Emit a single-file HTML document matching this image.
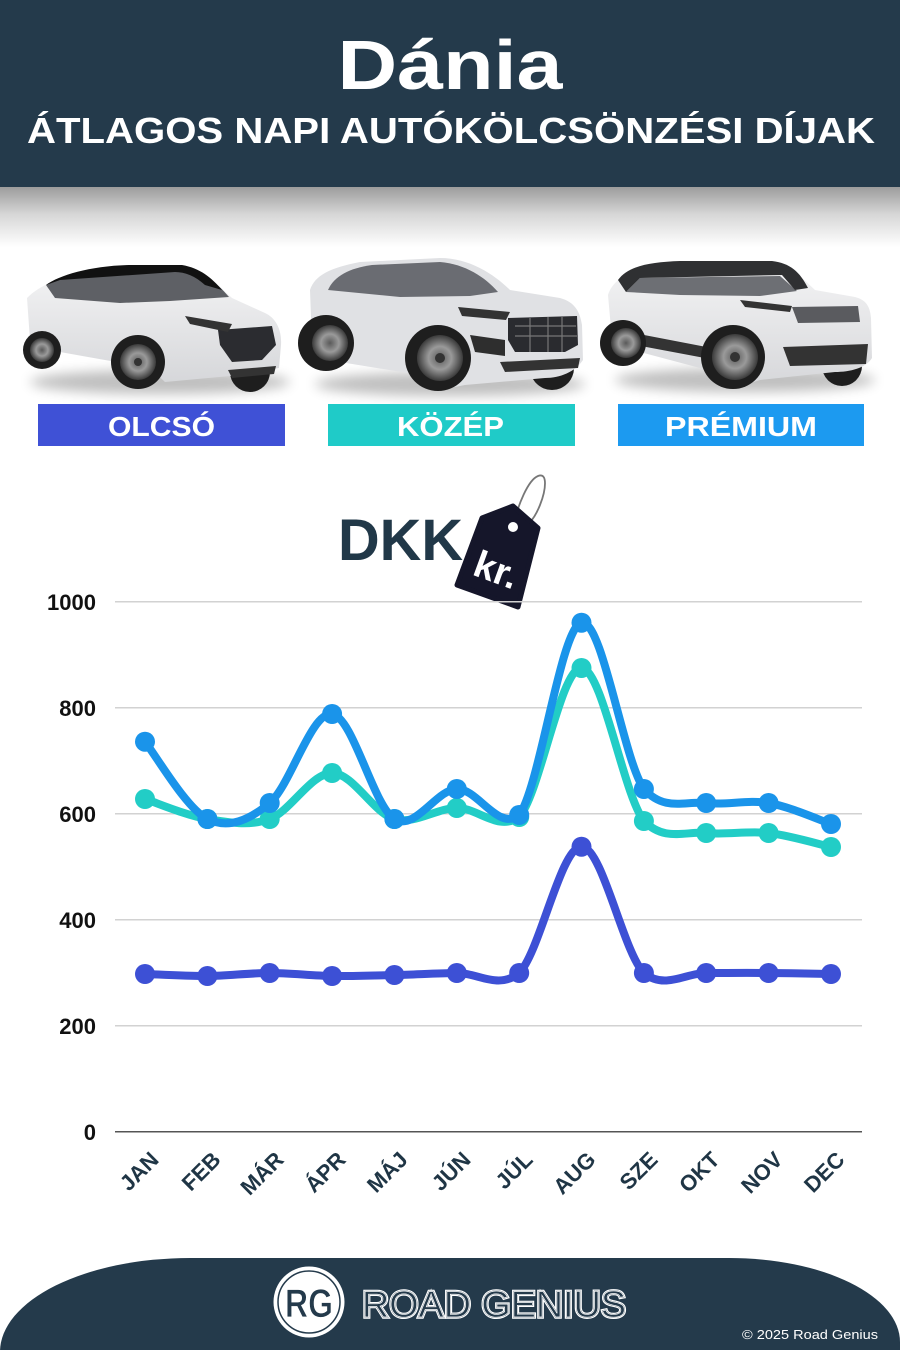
<!DOCTYPE html>
<html><head><meta charset="utf-8"><style>
html,body{margin:0;padding:0;background:#fff;}
svg{display:block;}
text{font-family:"Liberation Sans",Arial,sans-serif;}
</style></head><body>
<svg width="900" height="1350" viewBox="0 0 900 1350" xmlns="http://www.w3.org/2000/svg">
<defs>
<linearGradient id="hs" x1="0" y1="0" x2="0" y2="1">
<stop offset="0" stop-color="#9c9c9c"/><stop offset="0.45" stop-color="#d6d6d6"/><stop offset="1" stop-color="#ffffff"/>
</linearGradient>
<radialGradient id="rim" cx="0.5" cy="0.5" r="0.5">
<stop offset="0" stop-color="#5a5a5a"/><stop offset="0.5" stop-color="#9a9a9a"/><stop offset="1" stop-color="#3a3a3a"/>
</radialGradient>
<linearGradient id="b1" x1="0" y1="0" x2="0" y2="1">
<stop offset="0" stop-color="#f4f4f5"/><stop offset="1" stop-color="#d6d7da"/>
</linearGradient>
<filter id="blur" x="-20%" y="-200%" width="140%" height="500%"><feGaussianBlur stdDeviation="6"/></filter>
</defs>

<!-- header -->
<rect x="0" y="0" width="900" height="187" fill="#243a4b"/>
<rect x="0" y="187" width="900" height="60" fill="url(#hs)"/>
<text x="450" y="89" font-size="70" font-weight="bold" fill="#fff" text-anchor="middle" textLength="225" lengthAdjust="spacingAndGlyphs">Dánia</text>
<text x="27" y="143" font-size="36" font-weight="bold" fill="#fff" textLength="848" lengthAdjust="spacingAndGlyphs">ÁTLAGOS NAPI AUTÓKÖLCSÖNZÉSI DÍJAK</text>

<!-- car shadows -->
<ellipse cx="160" cy="382" rx="130" ry="12" fill="#000" opacity="0.25" filter="url(#blur)"/>
<ellipse cx="450" cy="384" rx="135" ry="12" fill="#000" opacity="0.25" filter="url(#blur)"/>
<ellipse cx="745" cy="380" rx="130" ry="12" fill="#000" opacity="0.25" filter="url(#blur)"/>

<!-- car 1 -->
<g>
<circle cx="250" cy="372" r="20" fill="#1e1e1e"/>
<path d="M27,298 C40,285 60,276 100,270 L180,267 C200,270 215,282 232,298 L265,313 C276,318 282,330 281,345 L279,368 L230,376 L165,382 L150,368 L60,352 L30,340 Z" fill="url(#b1)"/>
<path d="M46,285 C60,275 90,268 130,267 L182,267 C202,270 216,282 229,297 L170,301 L120,303 L55,298 Z" fill="#5e6065"/>
<path d="M46,285 C60,275 90,266 130,265 L182,265 C200,268 212,278 222,290 L205,285 C195,276 185,272 175,272 L60,280 Z" fill="#111"/>
<path d="M218,330 L272,326 L276,345 L262,360 L232,362 L220,345 Z" fill="#2b2c30"/>
<path d="M185,316 L232,324 L228,332 L190,324 Z" fill="#333"/>
<path d="M228,370 L276,366 L274,374 L232,378 Z" fill="#333"/>
<circle cx="42" cy="350" r="19" fill="#1e1e1e"/><circle cx="42" cy="350" r="12" fill="url(#rim)"/>
<circle cx="138" cy="362" r="27" fill="#1e1e1e"/><circle cx="138" cy="362" r="18" fill="url(#rim)"/><circle cx="138" cy="362" r="4" fill="#333"/>
</g>

<!-- car 2 -->
<g>
<circle cx="552" cy="368" r="22" fill="#1e1e1e"/>
<path d="M310,290 C315,275 330,268 360,262 L440,258 C470,258 495,275 510,290 L560,298 C575,302 580,312 582,325 L583,360 C575,372 560,378 545,378 L465,385 L440,390 L420,375 L340,362 L312,345 Z" fill="#e0e1e4"/>
<path d="M328,290 C334,276 350,268 372,265 L440,262 C465,264 485,277 498,292 L470,296 L400,297 Z" fill="#6a6c72"/>
<path d="M508,318 L577,316 L578,345 L565,352 L515,352 L508,340 Z" fill="#2a2b2f"/>
<path d="M515,326 H576 M515,336 H577 M530,318 V352 M548,317 V352 M562,317 V352" stroke="#777" stroke-width="1.2"/>
<path d="M458,307 L510,312 L506,320 L462,316 Z" fill="#333"/>
<path d="M470,335 L505,340 L505,356 L475,352 Z" fill="#2e2e2e"/>
<path d="M500,362 L580,358 L578,368 L505,372 Z" fill="#333"/>
<circle cx="326" cy="343" r="28" fill="#1e1e1e"/><circle cx="330" cy="343" r="18" fill="url(#rim)"/>
<circle cx="438" cy="358" r="33" fill="#1e1e1e"/><circle cx="440" cy="358" r="23" fill="url(#rim)"/><circle cx="440" cy="358" r="5" fill="#333"/>
</g>

<!-- car 3 -->
<g>
<circle cx="842" cy="366" r="20" fill="#1e1e1e"/>
<path d="M608,295 C612,282 625,272 650,266 L760,262 C785,263 800,275 815,290 L855,297 C866,300 870,306 871,318 L872,358 C866,368 850,372 835,372 L760,380 L735,388 L700,368 L640,352 L612,340 Z" fill="url(#b1)"/>
<path d="M626,292 L640,278 L780,276 L797,291 L760,296 L680,295 Z" fill="#6d6f74"/>
<path d="M618,280 C628,266 650,262 680,261 L772,261 C790,263 800,272 808,288 L795,290 L782,275 L640,278 L626,292 Z" fill="#2f3032"/>
<path d="M792,307 L858,306 L860,322 L798,323 Z" fill="#5a5b5f"/>
<path d="M740,300 L792,306 L790,312 L745,307 Z" fill="#333"/>
<path d="M783,347 L868,344 L866,364 L790,366 Z" fill="#333"/>
<path d="M618,330 L722,350 L726,362 L620,342 Z" fill="#333"/>
<circle cx="623" cy="343" r="23" fill="#1e1e1e"/><circle cx="626" cy="343" r="15" fill="url(#rim)"/>
<circle cx="733" cy="357" r="32" fill="#1e1e1e"/><circle cx="735" cy="357" r="23" fill="url(#rim)"/><circle cx="735" cy="357" r="5" fill="#333"/>
</g>

<!-- buttons -->
<rect x="38" y="404" width="247" height="42" fill="#3f51d6"/>
<rect x="328" y="404" width="247" height="42" fill="#1fcbc8"/>
<rect x="618" y="404" width="246" height="42" fill="#1c9af0"/>
<text x="108" y="436" font-size="28" font-weight="bold" fill="#fff" textLength="107" lengthAdjust="spacingAndGlyphs">OLCSÓ</text>
<text x="397" y="436" font-size="28" font-weight="bold" fill="#fff" textLength="107" lengthAdjust="spacingAndGlyphs">KÖZÉP</text>
<text x="665" y="436" font-size="28" font-weight="bold" fill="#fff" textLength="152" lengthAdjust="spacingAndGlyphs">PRÉMIUM</text>

<!-- DKK tag -->
<text x="338" y="560" font-size="58" font-weight="bold" fill="#213848" textLength="125" lengthAdjust="spacingAndGlyphs">DKK</text>
<path d="M513,526 C518,505 528,480 538,476 C548,472 546,490 540,505 C536,515 532,520 530,522" fill="none" stroke="#777" stroke-width="1.8"/>
<path d="M482,518 L513,506 L538,528 L518,607 L457,585 Z" fill="#15162a" stroke="#15162a" stroke-width="5" stroke-linejoin="round"/>
<circle cx="513" cy="527" r="5" fill="#fff"/>
<text x="492" y="582" font-size="38" font-weight="bold" fill="#fff" text-anchor="middle" transform="rotate(20 492 582)">kr.</text>

<!-- grid -->
<g stroke="#d2d2d2" stroke-width="1.5">
<line x1="115" y1="601.7" x2="862" y2="601.7"/>
<line x1="115" y1="707.7" x2="862" y2="707.7"/>
<line x1="115" y1="813.7" x2="862" y2="813.7"/>
<line x1="115" y1="919.7" x2="862" y2="919.7"/>
<line x1="115" y1="1025.7" x2="862" y2="1025.7"/>
</g>
<line x1="115" y1="1131.7" x2="862" y2="1131.7" stroke="#555" stroke-width="1.5"/>
<g font-size="22" font-weight="bold" fill="#111" text-anchor="end">
<text x="96" y="610">1000</text>
<text x="96" y="716">800</text>
<text x="96" y="822">600</text>
<text x="96" y="928">400</text>
<text x="96" y="1034">200</text>
<text x="96" y="1140">0</text>
</g>
<g font-size="22" font-weight="bold" fill="#1f3545" text-anchor="end">
<text x="160" y="1161" transform="rotate(-45 160 1161)">JAN</text>
<text x="222" y="1161" transform="rotate(-45 222 1161)">FEB</text>
<text x="285" y="1161" transform="rotate(-45 285 1161)">MÁR</text>
<text x="347" y="1161" transform="rotate(-45 347 1161)">ÁPR</text>
<text x="409" y="1161" transform="rotate(-45 409 1161)">MÁJ</text>
<text x="472" y="1161" transform="rotate(-45 472 1161)">JÚN</text>
<text x="534" y="1161" transform="rotate(-45 534 1161)">JÚL</text>
<text x="597" y="1161" transform="rotate(-45 597 1161)">AUG</text>
<text x="659" y="1161" transform="rotate(-45 659 1161)">SZE</text>
<text x="721" y="1161" transform="rotate(-45 721 1161)">OKT</text>
<text x="784" y="1161" transform="rotate(-45 784 1161)">NOV</text>
<text x="846" y="1161" transform="rotate(-45 846 1161)">DEC</text>
</g>

<!-- cheap -->
<path d="M145,974 C155.4,974.3 186.6,976.2 207.4,976 C228.2,975.8 248.9,973 269.7,973 C290.5,973 311.3,975.7 332.1,976 C352.9,976.3 373.6,975.5 394.4,975 C415.2,974.5 436,973.3 456.8,973 C477.6,972.7 498.4,990 519.2,973 C540,952 560.7,846.7 581.5,846.7 C602.3,846.7 623.1,952 643.9,973 C664.7,990 685.4,973 706.2,973 C727,973 747.8,972.8 768.6,973 C789.4,973.2 820.6,973.8 831,974" fill="none" stroke="#3d50d5" stroke-width="8" stroke-linecap="round" stroke-linejoin="round"/>
<g fill="#3d50d5">
<circle cx="145" cy="974" r="10"/><circle cx="207.4" cy="976" r="10"/><circle cx="269.7" cy="973" r="10"/><circle cx="332.1" cy="976" r="10"/><circle cx="394.4" cy="975" r="10"/><circle cx="456.8" cy="973" r="10"/><circle cx="519.2" cy="973" r="10"/><circle cx="581.5" cy="846.7" r="10"/><circle cx="643.9" cy="973" r="10"/><circle cx="706.2" cy="973" r="10"/><circle cx="768.6" cy="973" r="10"/><circle cx="831" cy="974" r="10"/>
</g>

<!-- mid -->
<path d="M145,799 C155.4,802.3 186.6,815.7 207.4,819 C228.2,822.3 248.9,826.7 269.7,819 C290.5,811.3 311.3,773 332.1,773 C352.9,773 373.6,813.2 394.4,819 C415.2,824.8 436,808.3 456.8,808 C477.6,807.7 498.4,832 519.2,817 C540,793.7 560.7,667.3 581.5,668 C602.3,668.7 623.1,793.5 643.9,821 C664.7,842 685.4,831 706.2,833 C727,835 747.8,830.7 768.6,833 C789.4,835.3 820.6,844.7 831,847" fill="none" stroke="#22cdc6" stroke-width="8" stroke-linecap="round" stroke-linejoin="round"/>
<g fill="#22cdc6">
<circle cx="145" cy="799" r="10"/><circle cx="207.4" cy="819" r="10"/><circle cx="269.7" cy="819" r="10"/><circle cx="332.1" cy="773" r="10"/><circle cx="394.4" cy="819" r="10"/><circle cx="456.8" cy="808" r="10"/><circle cx="519.2" cy="817" r="10"/><circle cx="581.5" cy="668" r="10"/><circle cx="643.9" cy="821" r="10"/><circle cx="706.2" cy="833" r="10"/><circle cx="768.6" cy="833" r="10"/><circle cx="831" cy="847" r="10"/>
</g>

<!-- premium -->
<path d="M145,741.7 C155.4,754.6 186.6,808.8 207.4,819 C228.2,829.2 248.9,820.5 269.7,803 C290.5,785.5 311.3,711.3 332.1,714 C352.9,716.7 373.6,806.5 394.4,819 C415.2,831.5 436,789.7 456.8,789 C477.6,788.3 498.4,832 519.2,815 C540,787.3 560.7,627 581.5,622.7 C602.3,618.4 623.1,759 643.9,789 C664.7,812 685.4,800.7 706.2,803 C727,805.3 747.8,799.5 768.6,803 C789.4,806.5 820.6,820.5 831,824" fill="none" stroke="#1a94ea" stroke-width="8" stroke-linecap="round" stroke-linejoin="round"/>
<g fill="#1a94ea">
<circle cx="145" cy="741.7" r="10"/><circle cx="207.4" cy="819" r="10"/><circle cx="269.7" cy="803" r="10"/><circle cx="332.1" cy="714" r="10"/><circle cx="394.4" cy="819" r="10"/><circle cx="456.8" cy="789" r="10"/><circle cx="519.2" cy="815" r="10"/><circle cx="581.5" cy="622.7" r="10"/><circle cx="643.9" cy="789" r="10"/><circle cx="706.2" cy="803" r="10"/><circle cx="768.6" cy="803" r="10"/><circle cx="831" cy="824" r="10"/>
</g>

<!-- footer -->
<path d="M0,1352 A190,94 0 0 1 190,1258 L729,1258 A171,84 0 0 1 900,1342 L900,1352 Z" fill="#243a4b"/>
<circle cx="309" cy="1302" r="35.5" fill="#fff"/>
<circle cx="309" cy="1302" r="31" fill="none" stroke="#243a4b" stroke-width="1.5"/>
<text x="309" y="1317" font-size="40" font-weight="bold" fill="#243a4b" text-anchor="middle" textLength="48" lengthAdjust="spacingAndGlyphs" stroke="#fff" stroke-width="0.8">RG</text>
<g font-size="37">
<text x="362" y="1317" textLength="264" lengthAdjust="spacingAndGlyphs" fill="none" stroke="#fff" stroke-width="3.5">ROAD GENIUS</text>
<text x="362" y="1317" textLength="264" lengthAdjust="spacingAndGlyphs" fill="#243a4b" stroke="#243a4b" stroke-width="1.2">ROAD GENIUS</text>
<text x="362" y="1317" textLength="264" lengthAdjust="spacingAndGlyphs" fill="none" stroke="#fff" stroke-width="0.7">ROAD GENIUS</text>
</g>
<text x="742" y="1339" font-size="13" fill="#fff" textLength="136" lengthAdjust="spacingAndGlyphs">© 2025 Road Genius</text>
</svg>
</body></html>
